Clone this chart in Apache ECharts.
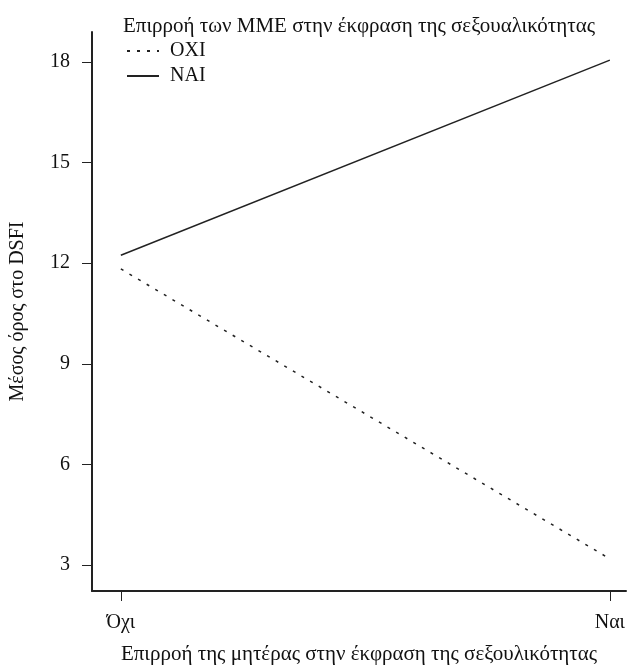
<!DOCTYPE html>
<html>
<head>
<meta charset="utf-8">
<script src="https://cdn.jsdelivr.net/npm/echarts@6/dist/echarts.min.js"></script>
<style>html,body{margin:0;padding:0;background:#fff}#c{width:628px;height:670px}</style>
</head>
<body>
<div id="c"></div>
<script>
const xCategories = ['Όχι', 'Ναι'];
const xPositions = [0, 1];
const seriesOXI = [11.83, 3.18];
const seriesNAI = [12.24, 18.06];
const yTicks = [3, 6, 9, 12, 15, 18];
const legendTitle = 'Επιρροή των ΜΜΕ στην έκφραση της σεξουαλικότητας';
const xTitle = 'Επιρροή της μητέρας στην έκφραση της σεξουλικότητας';
const yTitle = 'Μέσος όρος στο DSFI';

const font = 'Liberation Serif';
const fs = 20;
const chart = echarts.init(document.getElementById('c'));
chart.setOption({
  animation: false,
  backgroundColor: '#fff',
  textStyle: { fontFamily: font, color: '#111' },
  title: {
    text: legendTitle, left: 118, top: 11,
    textStyle: { fontFamily: font, fontSize: 21, fontWeight: 'normal', color: '#111' }
  },
  legend: {
    orient: 'vertical', left: 121, top: 36, itemGap: 5, itemWidth: 32, itemHeight: 14,
    textStyle: { fontFamily: font, fontSize: fs, color: '#111', padding: [0, 0, 0, 6] },
    itemStyle: { opacity: 0 },
    data: ['OXI', 'NAI']
  },
  grid: { left: 92, right: 0, top: 32, bottom: 78 },
  xAxis: {
    type: 'value', min: -0.059, max: 1.033,
    name: xTitle, nameLocation: 'middle', nameGap: 53,
    nameTextStyle: { fontFamily: font, fontSize: 21, color: '#111' },
    axisLine: { show: true, onZero: false, lineStyle: { color: '#222', width: 2 } },
    axisTick: { show: true, length: 10, customValues: xPositions, lineStyle: { color: '#222', width: 1 } },
    axisLabel: { customValues: xPositions, margin: 22, fontFamily: font, fontSize: fs, color: '#111',
      formatter: v => xCategories[xPositions.indexOf(v)] ?? '' },
    splitLine: { show: false }
  },
  yAxis: {
    type: 'value', min: 2.22, max: 18.9,
    name: yTitle, nameLocation: 'middle', nameGap: 64, nameRotate: 90,
    nameTextStyle: { fontFamily: font, fontSize: fs, color: '#111' },
    axisLine: { show: true, onZero: false, lineStyle: { color: '#222', width: 2 } },
    axisTick: { show: true, length: 10, customValues: yTicks, lineStyle: { color: '#222', width: 1 } },
    axisLabel: { customValues: yTicks, margin: 22, fontFamily: font, fontSize: fs, color: '#111' },
    splitLine: { show: false }
  },
  series: [
    { name: 'OXI', type: 'line', symbol: 'none', data: xPositions.map((x, i) => [x, seriesOXI[i]]),
      lineStyle: { color: '#222', width: 1.5, type: [3, 7] }, itemStyle: { color: '#222' } },
    { name: 'NAI', type: 'line', symbol: 'none', data: xPositions.map((x, i) => [x, seriesNAI[i]]),
      lineStyle: { color: '#222', width: 1.5, type: 'solid' }, itemStyle: { color: '#222' } }
  ]
});
</script>
</body>
</html>
